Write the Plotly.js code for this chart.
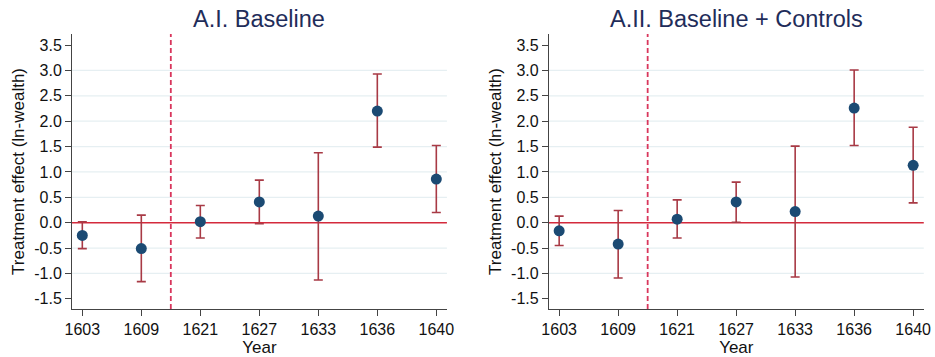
<!DOCTYPE html>
<html>
<head>
<meta charset="utf-8">
<script src="https://cdn.plot.ly/plotly-3.0.1.min.js"></script>
<style>html,body{margin:0;padding:0;background:#fff;}#chart{width:935px;height:357px;}</style>
</head>
<body>
<div id="chart"></div>
<script>
// ---- data ----
const years = ["1603", "1609", "1621", "1627", "1633", "1636", "1640"];
const panelTitles = ["A.I. Baseline", "A.II. Baseline + Controls"];

const baseEst   = [-0.25, -0.51, 0.02, 0.41, 0.13, 2.20, 0.86];
const baseUpper = [ 0.02,  0.15, 0.34, 0.84, 1.38, 2.93, 1.52];
const baseLower = [-0.51, -1.16, -0.30, -0.02, -1.13, 1.49, 0.20];

const ctrlEst   = [-0.16, -0.42, 0.07, 0.41, 0.22, 2.26, 1.13];
const ctrlUpper = [ 0.13,  0.24, 0.45, 0.80, 1.51, 3.01, 1.88];
const ctrlLower = [-0.45, -1.09, -0.30, 0.01, -1.07, 1.52, 0.39];

const yTickVals = [-1.5, -1.0, -0.5, 0.0, 0.5, 1.0, 1.5, 2.0, 2.5, 3.0, 3.5];
const yTickText = ["-1.5", "-1.0", "-0.5", "0.0", "0.5", "1.0", "1.5", "2.0", "2.5", "3.0", "3.5"];
const gridVals  = [-1.0, -0.5, 0.5, 1.0, 1.5, 2.0, 2.5, 3.0];
const zeroRef = 0;
const treatmentBreak = 1.5; // between 1609 and 1621

// ---- styles ----
const markerColor = "#1b4a73";
const errColor = "#a83a45";
const zeroColor = "#d42a3c";
const dashColor = "#d9365c";
const gridColor = "#e6eff2";
const titleColor = "#1f2d5a";
const font = "Liberation Sans, Arial, sans-serif";

function mkTrace(est, up, lo, xa, ya) {
  return {
    type: "scatter", mode: "markers",
    x: years, y: est, xaxis: xa, yaxis: ya,
    marker: {color: markerColor, size: 11, line: {width: 0}},
    error_y: {
      type: "data", symmetric: false,
      array: up.map((u, i) => u - est[i]),
      arrayminus: lo.map((l, i) => est[i] - l),
      color: errColor, thickness: 1.6, width: 4.5
    },
    hoverinfo: "x+y", showlegend: false, cliponaxis: false
  };
}

const traces = [
  mkTrace(baseEst, baseUpper, baseLower, "x", "y"),
  mkTrace(ctrlEst, ctrlUpper, ctrlLower, "x2", "y2")
];

const yRange = [-1.70, 3.72];
const xRange = [-0.175, 6.18];
const yDom = [0.1345, 0.905];

function xAxis(dom, anchor) {
  return {
    domain: dom, anchor: anchor, type: "category", categoryorder: "array",
    categoryarray: years, range: xRange,
    showline: true, linecolor: "#444", linewidth: 1, mirror: false,
    ticks: "outside", ticklen: 6, tickcolor: "#444", tickwidth: 1,
    showgrid: false, zeroline: false,
    tickfont: {family: font, size: 16, color: "#111"},
    title: {text: "Year", font: {family: font, size: 17, color: "#111"}, standoff: 0}
  };
}
function yAxis(anchor) {
  return {
    domain: yDom, anchor: anchor, range: yRange,
    tickmode: "array", tickvals: yTickVals, ticktext: yTickText,
    showline: true, linecolor: "#444", linewidth: 1,
    ticks: "outside", ticklen: 6, tickcolor: "#444", tickwidth: 1,
    showgrid: false, zeroline: false,
    tickfont: {family: font, size: 16, color: "#111"},
    title: {text: "Treatment effect (ln-wealth)", font: {family: font, size: 17, color: "#111"}, standoff: 5}
  };
}

const shapes = [];
[["x", "y"], ["x2", "y2"]].forEach(([xa, ya]) => {
  gridVals.forEach(v => shapes.push({
    type: "line", layer: "below", xref: xa + " domain", yref: ya,
    x0: 0, x1: 1, y0: v, y1: v, line: {color: gridColor, width: 1.2}
  }));
  shapes.push({
    type: "line", layer: "below", xref: xa + " domain", yref: ya,
    x0: 0, x1: 1, y0: zeroRef, y1: zeroRef, line: {color: zeroColor, width: 1.6}
  });
  shapes.push({
    type: "line", layer: "below", xref: xa, yref: ya + " domain",
    x0: treatmentBreak, x1: treatmentBreak, y0: 0, y1: 1,
    line: {color: dashColor, width: 1.8, dash: "5px,3px"}
  });
});

const annotations = panelTitles.map((t, i) => ({
  text: t, xref: (i === 0 ? "x" : "x2") + " domain", yref: "paper",
  x: 0.5, y: 1 - 19 / 357, xanchor: "center", yanchor: "middle",
  showarrow: false, font: {family: font, size: 23.5, color: titleColor}
}));

const layout = {
  width: 935, height: 357,
  margin: {l: 0, r: 0, t: 0, b: 0},
  paper_bgcolor: "#fff", plot_bgcolor: "#fff",
  xaxis: xAxis([0.077, 0.478], "y"),
  yaxis: yAxis("x"),
  xaxis2: xAxis([0.587, 0.988], "y2"),
  yaxis2: yAxis("x2"),
  shapes: shapes, annotations: annotations,
  showlegend: false
};

Plotly.newPlot("chart", traces, layout, {displayModeBar: false, staticPlot: true});
</script>
</body>
</html>
